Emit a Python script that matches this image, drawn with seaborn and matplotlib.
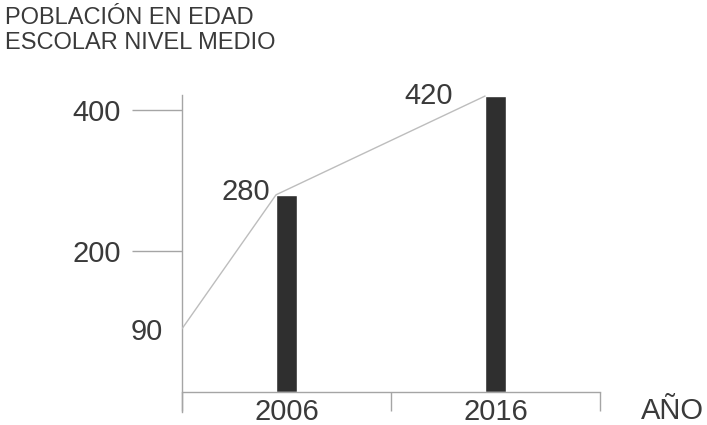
import matplotlib
matplotlib.use("Agg")
import matplotlib.pyplot as plt
import seaborn as sns

# Data
years = ["2006", "2016"]
poblacion = [280, 420]
inicio = 90          # value where the line starts, on the y axis
yticks = [200, 400]
label_offsets = [(-4, 2), (-23, 0)]   # offset (pt) of the value labels

sns.set_style("white")
plt.rcParams["font.family"] = ["Liberation Sans", "DejaVu Sans"]
txt = "#3a3a3a"
axis_col = "#a5a5a5"

fig = plt.figure(figsize=(7.07, 4.25), dpi=100)
ax = fig.add_axes([182 / 707, 13 / 425, 418 / 707, 323 / 425])

# Bars
bar_w = 0.1
sns.barplot(x=years, y=poblacion, color="#2f2f2f", width=bar_w,
            saturation=1, ax=ax)

# Trend line: from the axis to the top-left corner of each bar
line_x = [-0.5] + [i - bar_w / 2 for i in range(len(years))]
line_y = [inicio] + poblacion
ax.plot(line_x, line_y, color="#bdbdbd", lw=1, zorder=3)

# Value labels
for i, (v, off) in enumerate(zip(poblacion, label_offsets)):
    ax.annotate(str(v), (i - bar_w / 2, v), xytext=off,
                textcoords="offset points", ha="right", va="center",
                fontsize=21, color=txt)
ax.annotate(str(inicio), (-0.5, inicio), xytext=(-14, -2),
            textcoords="offset points", ha="right", va="center",
            fontsize=21, color=txt)

# Axes styling
ax.set_xlim(-0.5, 1.5)
ax.set_ylim(-28, 430)
ax.spines["top"].set_visible(False)
ax.spines["right"].set_visible(False)
ax.spines["bottom"].set_position(("data", 0))
ax.spines["left"].set_bounds(-28, 421)
for s in ("left", "bottom"):
    ax.spines[s].set_color(axis_col)
    ax.spines[s].set_linewidth(1)

ax.set_xticks(range(len(years)))
ax.set_xticklabels(years)
ax.set_xticks([-0.5, 0.5, 1.5], minor=True)
ax.tick_params(axis="x", which="major", bottom=True, length=0, pad=4,
               labelsize=21, labelcolor=txt)
ax.tick_params(axis="x", which="minor", bottom=True, length=14, width=1,
               color=axis_col, direction="out")

ax.set_yticks(yticks)
ax.set_yticklabels([str(t) for t in yticks])
ax.tick_params(axis="y", left=True, length=36, width=1, color=axis_col,
               direction="out", pad=8, labelsize=21, labelcolor=txt)
ax.set_xlabel("")
ax.set_ylabel("")

fig.text(5 / 707, 1 - 7 / 425, "POBLACIÓN EN EDAD\nESCOLAR NIVEL MEDIO",
         ha="left", va="top", fontsize=17, color=txt, linespacing=1.15)
fig.text(672 / 707, 1 - 411 / 425, "AÑO", ha="center", va="center",
         fontsize=21, color=txt)

fig.savefig("out.png", dpi=100, facecolor="white")
